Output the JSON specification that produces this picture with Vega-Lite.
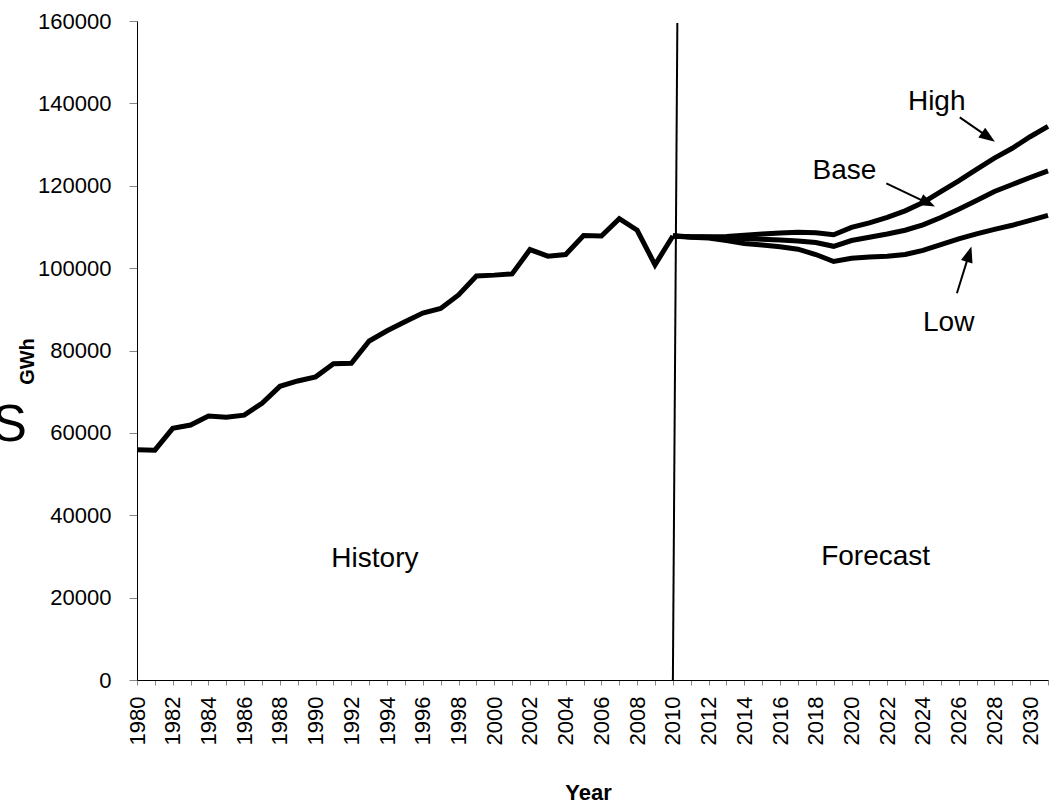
{
  "$schema": "https://vega.github.io/schema/vega-lite/v6.json",
  "width": 911,
  "height": 659,
  "autosize": "none",
  "padding": {"left": 137, "top": 21, "right": 7, "bottom": 122},
  "background": "white",
  "config": {"view": {"stroke": null}, "font": "Liberation Sans"},
  "datasets": {
    "series": [
      {"series": "History", "year": 1980, "gwh": 55900},
      {"series": "History", "year": 1981, "gwh": 55800},
      {"series": "History", "year": 1982, "gwh": 61100},
      {"series": "History", "year": 1983, "gwh": 61900},
      {"series": "History", "year": 1984, "gwh": 64100},
      {"series": "History", "year": 1985, "gwh": 63800},
      {"series": "History", "year": 1986, "gwh": 64300},
      {"series": "History", "year": 1987, "gwh": 67200},
      {"series": "History", "year": 1988, "gwh": 71300},
      {"series": "History", "year": 1989, "gwh": 72600},
      {"series": "History", "year": 1990, "gwh": 73600},
      {"series": "History", "year": 1991, "gwh": 76800},
      {"series": "History", "year": 1992, "gwh": 76900},
      {"series": "History", "year": 1993, "gwh": 82300},
      {"series": "History", "year": 1994, "gwh": 84800},
      {"series": "History", "year": 1995, "gwh": 87000},
      {"series": "History", "year": 1996, "gwh": 89100},
      {"series": "History", "year": 1997, "gwh": 90200},
      {"series": "History", "year": 1998, "gwh": 93500},
      {"series": "History", "year": 1999, "gwh": 98100},
      {"series": "History", "year": 2000, "gwh": 98300},
      {"series": "History", "year": 2001, "gwh": 98600},
      {"series": "History", "year": 2002, "gwh": 104500},
      {"series": "History", "year": 2003, "gwh": 102900},
      {"series": "History", "year": 2004, "gwh": 103300},
      {"series": "History", "year": 2005, "gwh": 107900},
      {"series": "History", "year": 2006, "gwh": 107800},
      {"series": "History", "year": 2007, "gwh": 112000},
      {"series": "History", "year": 2008, "gwh": 109200},
      {"series": "History", "year": 2009, "gwh": 100800},
      {"series": "History", "year": 2010, "gwh": 107800},
      {"series": "High", "year": 2010, "gwh": 107800},
      {"series": "High", "year": 2011, "gwh": 107600},
      {"series": "High", "year": 2012, "gwh": 107600},
      {"series": "High", "year": 2013, "gwh": 107700},
      {"series": "High", "year": 2014, "gwh": 108000},
      {"series": "High", "year": 2015, "gwh": 108300},
      {"series": "High", "year": 2016, "gwh": 108500},
      {"series": "High", "year": 2017, "gwh": 108700},
      {"series": "High", "year": 2018, "gwh": 108600},
      {"series": "High", "year": 2019, "gwh": 108100},
      {"series": "High", "year": 2020, "gwh": 109900},
      {"series": "High", "year": 2021, "gwh": 111000},
      {"series": "High", "year": 2022, "gwh": 112300},
      {"series": "High", "year": 2023, "gwh": 113900},
      {"series": "High", "year": 2024, "gwh": 115900},
      {"series": "High", "year": 2025, "gwh": 118600},
      {"series": "High", "year": 2026, "gwh": 121200},
      {"series": "High", "year": 2027, "gwh": 124000},
      {"series": "High", "year": 2028, "gwh": 126700},
      {"series": "High", "year": 2029, "gwh": 129100},
      {"series": "High", "year": 2030, "gwh": 131900},
      {"series": "High", "year": 2031, "gwh": 134400},
      {"series": "Base", "year": 2010, "gwh": 107800},
      {"series": "Base", "year": 2011, "gwh": 107600},
      {"series": "Base", "year": 2012, "gwh": 107500},
      {"series": "Base", "year": 2013, "gwh": 107300},
      {"series": "Base", "year": 2014, "gwh": 107200},
      {"series": "Base", "year": 2015, "gwh": 107000},
      {"series": "Base", "year": 2016, "gwh": 106800},
      {"series": "Base", "year": 2017, "gwh": 106600},
      {"series": "Base", "year": 2018, "gwh": 106200},
      {"series": "Base", "year": 2019, "gwh": 105300},
      {"series": "Base", "year": 2020, "gwh": 106700},
      {"series": "Base", "year": 2021, "gwh": 107500},
      {"series": "Base", "year": 2022, "gwh": 108300},
      {"series": "Base", "year": 2023, "gwh": 109200},
      {"series": "Base", "year": 2024, "gwh": 110500},
      {"series": "Base", "year": 2025, "gwh": 112300},
      {"series": "Base", "year": 2026, "gwh": 114300},
      {"series": "Base", "year": 2027, "gwh": 116400},
      {"series": "Base", "year": 2028, "gwh": 118600},
      {"series": "Base", "year": 2029, "gwh": 120300},
      {"series": "Base", "year": 2030, "gwh": 122000},
      {"series": "Base", "year": 2031, "gwh": 123600},
      {"series": "Low", "year": 2010, "gwh": 107800},
      {"series": "Low", "year": 2011, "gwh": 107500},
      {"series": "Low", "year": 2012, "gwh": 107300},
      {"series": "Low", "year": 2013, "gwh": 106700},
      {"series": "Low", "year": 2014, "gwh": 106000},
      {"series": "Low", "year": 2015, "gwh": 105600},
      {"series": "Low", "year": 2016, "gwh": 105200},
      {"series": "Low", "year": 2017, "gwh": 104600},
      {"series": "Low", "year": 2018, "gwh": 103300},
      {"series": "Low", "year": 2019, "gwh": 101600},
      {"series": "Low", "year": 2020, "gwh": 102400},
      {"series": "Low", "year": 2021, "gwh": 102700},
      {"series": "Low", "year": 2022, "gwh": 102900},
      {"series": "Low", "year": 2023, "gwh": 103300},
      {"series": "Low", "year": 2024, "gwh": 104300},
      {"series": "Low", "year": 2025, "gwh": 105700},
      {"series": "Low", "year": 2026, "gwh": 107100},
      {"series": "Low", "year": 2027, "gwh": 108300},
      {"series": "Low", "year": 2028, "gwh": 109400},
      {"series": "Low", "year": 2029, "gwh": 110400},
      {"series": "Low", "year": 2030, "gwh": 111600},
      {"series": "Low", "year": 2031, "gwh": 112800}
    ],
    "arrows": [
      {"label": "High", "year": 2026.06, "gwh": 136600, "year2": 2027.66, "gwh2": 131800},
      {"label": "Base", "year": 2021.95, "gwh": 120600, "year2": 2024.27, "gwh2": 115800},
      {"label": "Low", "year": 2025.90, "gwh": 93900, "year2": 2026.58, "gwh2": 103400}
    ],
    "heads": [
      {"label": "High", "year": 2027.66, "gwh": 131800},
      {"label": "Base", "year": 2024.27, "gwh": 115800},
      {"label": "Low", "year": 2026.58, "gwh": 103400}
    ],
    "notes": [
      {"label": "History", "year": 1993.32, "gwh": 27400},
      {"label": "Forecast", "year": 2021.35, "gwh": 27900},
      {"label": "High", "year": 2024.77, "gwh": 138400},
      {"label": "Base", "year": 2019.60, "gwh": 121600},
      {"label": "Low", "year": 2025.44, "gwh": 84800}
    ],
    "divider": [
      {"year": 2010, "gwh": 0, "year2": 2010.25, "gwh2": 159500}
    ],
    "stray": [
      {"label": "S", "year": 1972.87, "gwh": 62000}
    ]
  },
  "encoding": {
    "x": {
      "field": "year", "type": "quantitative", "title": "Year",
      "scale": {"domain": [1980, 2031], "nice": false, "zero": false},
      "axis": {
        "values": [1980,1981,1982,1983,1984,1985,1986,1987,1988,1989,1990,1991,1992,1993,1994,1995,1996,1997,1998,1999,2000,2001,2002,2003,2004,2005,2006,2007,2008,2009,2010,2011,2012,2013,2014,2015,2016,2017,2018,2019,2020,2021,2022,2023,2024,2025,2026,2027,2028,2029,2030,2031],
        "format": "d",
        "labelExpr": "datum.value % 2 === 0 ? datum.label : ''",
        "labelAngle": -90, "labelAlign": "right", "labelBaseline": "middle",
        "labelFontSize": 22, "labelColor": "black", "labelPadding": 11,
        "labelOverlap": false, "labelFlush": false, "labelBound": false,
        "tickSize": 5, "tickColor": "#868686", "domainColor": "black", "grid": false,
        "titleFontSize": 22, "titleFontWeight": "bold", "titleColor": "black",
        "titleX": 451, "titleY": 119, "titleAlign": "center", "titleBaseline": "alphabetic"
      }
    },
    "y": {
      "field": "gwh", "type": "quantitative", "title": "GWh",
      "scale": {"domain": [0, 160000], "nice": false},
      "axis": {
        "values": [0, 20000, 40000, 60000, 80000, 100000, 120000, 140000, 160000],
        "format": "d",
        "labelFontSize": 22, "labelColor": "black", "labelPadding": 18,
        "labelFlush": false, "labelOverlap": false,
        "tickSize": 8, "tickColor": "#868686", "domainColor": "black", "grid": false,
        "titleFontSize": 20, "titleFontWeight": "bold", "titleColor": "black",
        "titleAngle": -90, "titleX": -104, "titleY": 340, "titleAlign": "center", "titleBaseline": "alphabetic"
      }
    }
  },
  "layer": [
    {
      "data": {"name": "series"},
      "mark": {"type": "line", "color": "black", "strokeWidth": 5},
      "encoding": {
        "detail": {"field": "series", "type": "nominal"}
      }
    },
    {
      "data": {"name": "divider"},
      "mark": {"type": "rule", "color": "black", "strokeWidth": 2},
      "encoding": {
        "x2": {"field": "year2"},
        "y2": {"field": "gwh2"}
      }
    },
    {
      "data": {"name": "arrows"},
      "mark": {"type": "rule", "color": "black", "strokeWidth": 2},
      "encoding": {
        "x2": {"field": "year2"},
        "y2": {"field": "gwh2"}
      }
    },
    {
      "data": {"name": "heads"},
      "transform": [{"filter": "datum.label === 'High'"}],
      "mark": {"type": "point", "shape": "M0,-1L0.75,1L-0.75,1Z", "filled": true, "color": "black", "opacity": 1, "size": 256, "angle": 125},
      "encoding": {}
    },
    {
      "data": {"name": "heads"},
      "transform": [{"filter": "datum.label === 'Base'"}],
      "mark": {"type": "point", "shape": "M0,-1L0.75,1L-0.75,1Z", "filled": true, "color": "black", "opacity": 1, "size": 256, "angle": 116},
      "encoding": {}
    },
    {
      "data": {"name": "heads"},
      "transform": [{"filter": "datum.label === 'Low'"}],
      "mark": {"type": "point", "shape": "M0,-1L0.75,1L-0.75,1Z", "filled": true, "color": "black", "opacity": 1, "size": 256, "angle": 17},
      "encoding": {}
    },
    {
      "data": {"name": "notes"},
      "mark": {"type": "text", "fontSize": 28, "font": "Liberation Sans", "align": "center", "baseline": "alphabetic", "color": "black"},
      "encoding": {
        "text": {"field": "label"}
      }
    },
    {
      "data": {"name": "stray"},
      "mark": {"type": "text", "fontSize": 52, "font": "Liberation Sans", "align": "center", "baseline": "middle", "color": "black"},
      "encoding": {
        "text": {"field": "label"}
      }
    }
  ]
}
